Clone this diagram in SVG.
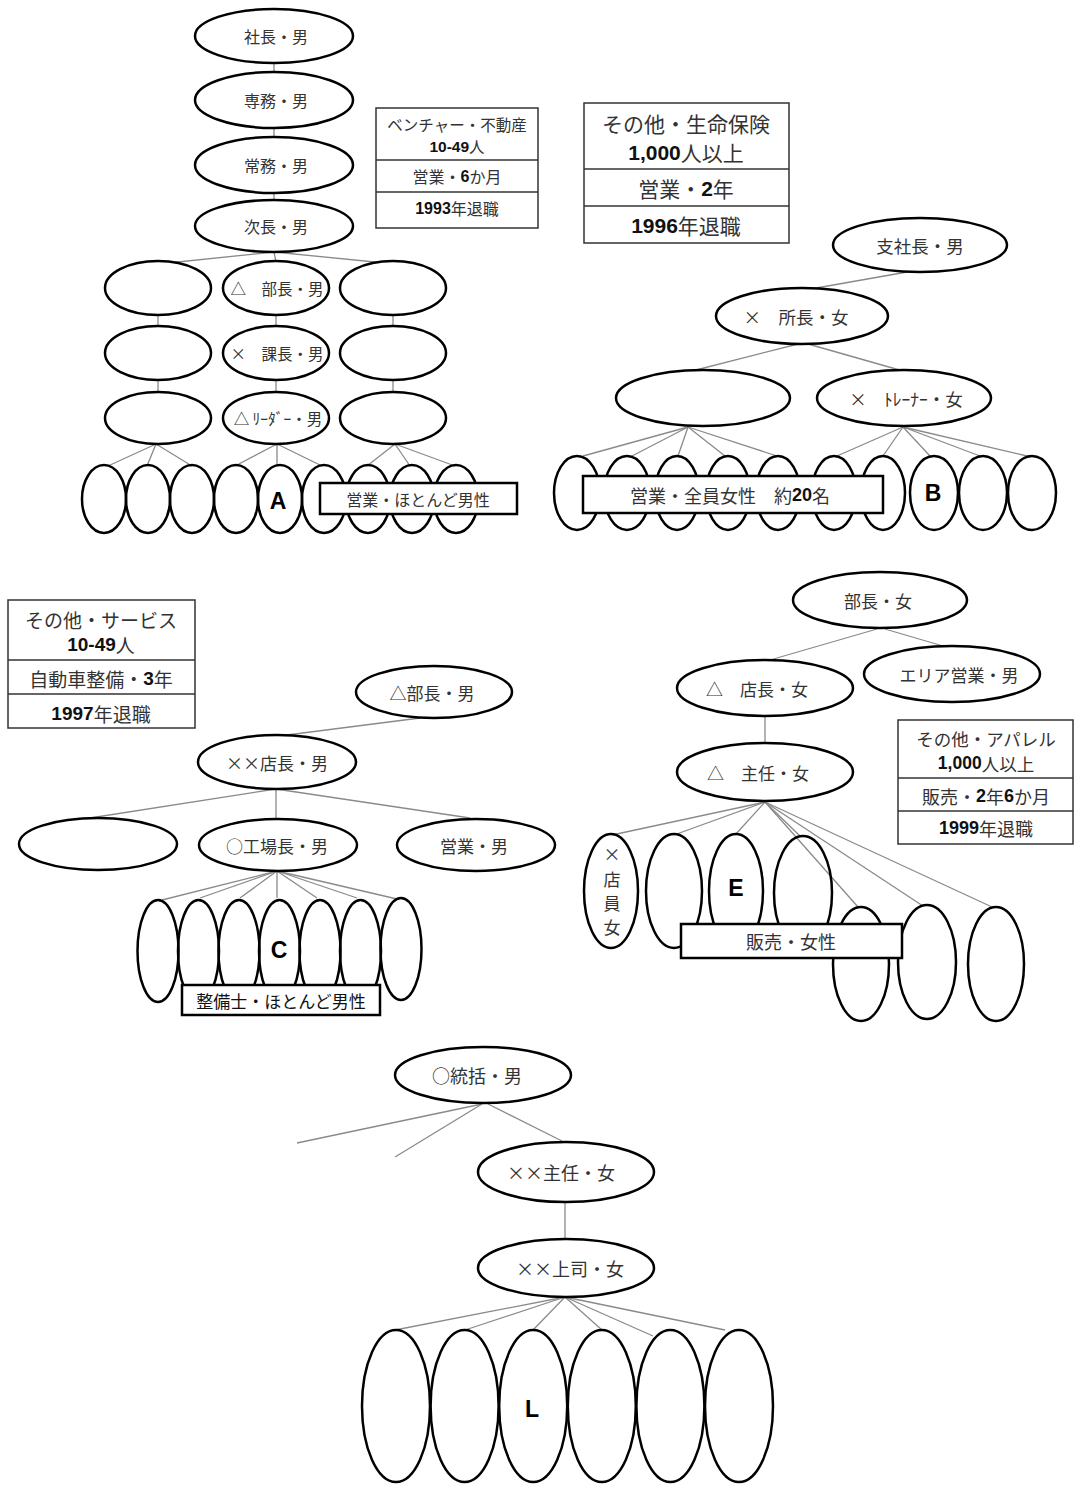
<svg xmlns="http://www.w3.org/2000/svg" width="1075" height="1485" viewBox="0 0 1075 1485">
<style>
.n{fill:#fff;stroke:#000;stroke-width:2.5}
.o{fill:none;stroke:#000;stroke-width:2.5}
.c{stroke:#8a8a8a;stroke-width:1.3;fill:none}
.t{font-family:"Noto Sans CJK JP","Liberation Sans",sans-serif;fill:#333;text-anchor:middle;dominant-baseline:central}
.box{fill:#fff;stroke:#333;stroke-width:1.5}
.lbl{fill:#fff;stroke:#000;stroke-width:2.5}
.d{font-family:"Liberation Sans",Arial,sans-serif;font-weight:bold;fill:#111}
.big{font-family:"Liberation Sans",Arial,sans-serif;font-weight:bold;font-size:23px;fill:#000;text-anchor:middle;dominant-baseline:central}
</style>
<rect width="1075" height="1485" fill="#fff"/>
<g id="connectors" class="c">
<!-- A -->
<line x1="274" y1="63" x2="274" y2="73"/>
<line x1="274" y1="128" x2="274" y2="137"/>
<line x1="274" y1="193" x2="274" y2="201"/>
<line x1="274" y1="252" x2="168" y2="263"/>
<line x1="274" y1="252" x2="276" y2="262"/>
<line x1="274" y1="252" x2="385" y2="263"/>
<line x1="158" y1="315" x2="158" y2="327"/>
<line x1="276" y1="315" x2="276" y2="327"/>
<line x1="393" y1="315" x2="393" y2="327"/>
<line x1="158" y1="380" x2="158" y2="392"/>
<line x1="276" y1="380" x2="276" y2="392"/>
<line x1="393" y1="380" x2="393" y2="392"/>
<line x1="156" y1="444" x2="108" y2="466"/>
<line x1="156" y1="444" x2="147" y2="466"/>
<line x1="156" y1="444" x2="192" y2="466"/>
<line x1="277" y1="444" x2="235" y2="466"/>
<line x1="277" y1="444" x2="277" y2="466"/>
<line x1="277" y1="444" x2="322" y2="466"/>
<line x1="395" y1="444" x2="367" y2="466"/>
<line x1="395" y1="444" x2="410" y2="466"/>
<line x1="395" y1="444" x2="455" y2="466"/>
<!-- B -->
<line x1="907" y1="272" x2="805" y2="290"/>
<line x1="798" y1="344" x2="692" y2="371"/>
<line x1="808" y1="344" x2="903" y2="371"/>
<line x1="688" y1="427" x2="583" y2="456"/>
<line x1="688" y1="427" x2="632" y2="456"/>
<line x1="688" y1="427" x2="678" y2="456"/>
<line x1="688" y1="427" x2="725" y2="456"/>
<line x1="688" y1="427" x2="777" y2="456"/>
<line x1="903" y1="427" x2="837" y2="456"/>
<line x1="903" y1="427" x2="883" y2="456"/>
<line x1="903" y1="427" x2="930" y2="456"/>
<line x1="903" y1="427" x2="980" y2="456"/>
<line x1="903" y1="427" x2="1027" y2="456"/>
<!-- C -->
<line x1="420" y1="718" x2="287" y2="735"/>
<line x1="276" y1="789" x2="90" y2="818"/>
<line x1="276" y1="789" x2="276" y2="818"/>
<line x1="276" y1="789" x2="470" y2="818"/>
<line x1="277" y1="871" x2="162" y2="900"/>
<line x1="277" y1="871" x2="200" y2="898"/>
<line x1="277" y1="871" x2="240" y2="898"/>
<line x1="277" y1="871" x2="277" y2="898"/>
<line x1="277" y1="871" x2="317" y2="898"/>
<line x1="277" y1="871" x2="357" y2="898"/>
<line x1="277" y1="871" x2="397" y2="899"/>
<!-- E -->
<line x1="877" y1="629" x2="770" y2="660"/>
<line x1="885" y1="629" x2="943" y2="646"/>
<line x1="765" y1="716" x2="765" y2="743"/>
<line x1="765" y1="802" x2="612" y2="835"/>
<line x1="765" y1="802" x2="674" y2="835"/>
<line x1="765" y1="802" x2="735" y2="835"/>
<line x1="765" y1="802" x2="800" y2="836"/>
<line x1="765" y1="802" x2="858" y2="907"/>
<line x1="765" y1="802" x2="923" y2="906"/>
<line x1="765" y1="802" x2="992" y2="907"/>
<!-- L -->
<line x1="482" y1="1104" x2="297" y2="1143"/>
<line x1="482" y1="1104" x2="395" y2="1157"/>
<line x1="488" y1="1104" x2="562" y2="1141"/>
<line x1="565" y1="1202" x2="565" y2="1239"/>
<line x1="565" y1="1297" x2="395" y2="1330"/>
<line x1="565" y1="1297" x2="465" y2="1330"/>
<line x1="565" y1="1297" x2="533" y2="1330"/>
<line x1="565" y1="1297" x2="602" y2="1330"/>
<line x1="565" y1="1297" x2="653" y2="1336"/>
<line x1="565" y1="1297" x2="725" y2="1330"/>
</g>

<!-- ===== A ===== -->
<g id="a-shacho"><ellipse class="n" cx="274" cy="36" rx="79" ry="27"/><text class="t" x="276" y="36" font-size="16">社長・男</text></g>
<g id="a-senmu"><ellipse class="n" cx="274" cy="100" rx="79" ry="28"/><text class="t" x="276" y="100" font-size="16">専務・男</text></g>
<g id="a-jomu"><ellipse class="n" cx="274" cy="165" rx="79" ry="28"/><text class="t" x="276" y="165" font-size="16">常務・男</text></g>
<g id="a-jicho"><ellipse class="n" cx="274" cy="226" rx="79" ry="26"/><text class="t" x="276" y="226" font-size="16">次長・男</text></g>
<g id="a-r2l"><ellipse class="n" cx="158" cy="288" rx="53" ry="27"/></g>
<g id="a-bucho"><ellipse class="n" cx="276" cy="288" rx="53" ry="27"/><text class="t" x="277" y="288" font-size="15.5">△　部長・男</text></g>
<g id="a-r2r"><ellipse class="n" cx="393" cy="288" rx="53" ry="27"/></g>
<g id="a-r3l"><ellipse class="n" cx="158" cy="353" rx="53" ry="27"/></g>
<g id="a-kacho"><ellipse class="n" cx="276" cy="353" rx="53" ry="27"/><text class="t" x="277" y="353" font-size="15.5">×　課長・男</text></g>
<g id="a-r3r"><ellipse class="n" cx="393" cy="353" rx="53" ry="27"/></g>
<g id="a-r4l"><ellipse class="n" cx="158" cy="418" rx="53" ry="26"/></g>
<g id="a-leader"><ellipse class="n" cx="276" cy="418" rx="53" ry="26"/><text class="t" x="278" y="418" font-size="15.5">△ ﾘｰﾀﾞｰ・男</text></g>
<g id="a-r4r"><ellipse class="n" cx="393" cy="418" rx="53" ry="26"/></g>
<g id="a-staff">
<ellipse class="o" cx="104" cy="499" rx="22" ry="34"/>
<ellipse class="o" cx="148" cy="499" rx="22" ry="34"/>
<ellipse class="o" cx="192" cy="499" rx="22" ry="34"/>
<ellipse class="o" cx="236" cy="499" rx="22" ry="34"/>
<ellipse class="o" cx="280" cy="499" rx="22" ry="34"/>
<ellipse class="o" cx="324" cy="499" rx="22" ry="34"/>
<ellipse class="o" cx="368" cy="499" rx="22" ry="34"/>
<ellipse class="o" cx="412" cy="499" rx="22" ry="34"/>
<ellipse class="o" cx="456" cy="499" rx="22" ry="34"/>
<text class="big" x="278" y="501">A</text>
</g>
<g id="a-label"><rect class="lbl" x="320" y="483" width="197" height="31"/><text class="t" x="418" y="499" font-size="16">営業・ほとんど男性</text></g>
<g id="a-info">
<rect class="box" x="376" y="108" width="162" height="120"/>
<line x1="376" y1="160" x2="538" y2="160" stroke="#333" stroke-width="1.5"/>
<line x1="376" y1="192" x2="538" y2="192" stroke="#333" stroke-width="1.5"/>
<text class="t" x="457" y="124" font-size="15.5">ベンチャー・不動産</text>
<text class="t" x="457" y="146" font-size="15.5"><tspan class="d">10-49</tspan>人</text>
<text class="t" x="457" y="176" font-size="16">営業・<tspan class="d">6</tspan>か月</text>
<text class="t" x="457" y="208" font-size="16"><tspan class="d">1993</tspan>年退職</text>
</g>

<!-- ===== B ===== -->
<g id="b-info">
<rect class="box" x="584" y="103" width="205" height="140"/>
<line x1="584" y1="169" x2="789" y2="169" stroke="#333" stroke-width="1.5"/>
<line x1="584" y1="206" x2="789" y2="206" stroke="#333" stroke-width="1.5"/>
<text class="t" x="686" y="123" font-size="21">その他・生命保険</text>
<text class="t" x="686" y="152" font-size="21"><tspan class="d">1,000</tspan>人以上</text>
<text class="t" x="686" y="188" font-size="21">営業・<tspan class="d">2</tspan>年</text>
<text class="t" x="686" y="225" font-size="21"><tspan class="d">1996</tspan>年退職</text>
</g>
<g id="b-shishacho"><ellipse class="n" cx="920" cy="245" rx="87" ry="27"/><text class="t" x="920" y="245" font-size="17.5">支社長・男</text></g>
<g id="b-shocho"><ellipse class="n" cx="802" cy="316" rx="86" ry="28"/><text class="t" x="796" y="316" font-size="17.5">×　所長・女</text></g>
<g id="b-blank"><ellipse class="n" cx="703" cy="398" rx="87" ry="28"/></g>
<g id="b-trainer"><ellipse class="n" cx="904" cy="398" rx="87" ry="28"/><text class="t" x="906" y="398" font-size="17.5">×　ﾄﾚｰﾅｰ・女</text></g>
<g id="b-staff">
<ellipse class="o" cx="577" cy="493" rx="23" ry="37"/>
<ellipse class="o" cx="627" cy="493" rx="23" ry="37"/>
<ellipse class="o" cx="677" cy="493" rx="22" ry="37"/>
<ellipse class="o" cx="728" cy="493" rx="22" ry="37"/>
<ellipse class="o" cx="778" cy="493" rx="22" ry="37"/>
<ellipse class="o" cx="834" cy="493" rx="22" ry="37"/>
<ellipse class="o" cx="883" cy="493" rx="22" ry="37"/>
<ellipse class="o" cx="934" cy="493" rx="24" ry="37"/>
<ellipse class="o" cx="983" cy="493" rx="24" ry="37"/>
<ellipse class="o" cx="1032" cy="493" rx="24" ry="37"/>
<text class="big" x="933" y="493">B</text>
</g>
<g id="b-label"><rect class="lbl" x="583" y="476" width="300" height="37"/><text class="t" x="730" y="495" font-size="18">営業・全員女性　約<tspan class="d">20</tspan>名</text></g>

<!-- ===== C ===== -->
<g id="c-info">
<rect class="box" x="8" y="600" width="187" height="128"/>
<line x1="8" y1="660" x2="195" y2="660" stroke="#333" stroke-width="1.5"/>
<line x1="8" y1="694" x2="195" y2="694" stroke="#333" stroke-width="1.5"/>
<text class="t" x="101" y="619" font-size="19">その他・サービス</text>
<text class="t" x="101" y="644" font-size="19"><tspan class="d">10-49</tspan>人</text>
<text class="t" x="101" y="678" font-size="19">自動車整備・<tspan class="d">3</tspan>年</text>
<text class="t" x="101" y="713" font-size="19"><tspan class="d">1997</tspan>年退職</text>
</g>
<g id="c-bucho"><ellipse class="n" cx="434" cy="692" rx="78" ry="26"/><text class="t" x="432" y="692" font-size="17">△部長・男</text></g>
<g id="c-tencho"><ellipse class="n" cx="277" cy="762" rx="79" ry="27"/><text class="t" x="277" y="762" font-size="17">××店長・男</text></g>
<g id="c-blank"><ellipse class="n" cx="98" cy="844" rx="79" ry="26"/></g>
<g id="c-kojocho"><ellipse class="n" cx="278" cy="845" rx="79" ry="26"/><text class="t" x="277" y="845" font-size="17">○工場長・男</text></g>
<g id="c-eigyo"><ellipse class="n" cx="476" cy="845" rx="79" ry="26"/><text class="t" x="474" y="845" font-size="17">営業・男</text></g>
<g id="c-staff">
<ellipse class="o" cx="158" cy="951" rx="20.5" ry="51"/>
<ellipse class="o" cx="198.5" cy="951" rx="20.5" ry="51"/>
<ellipse class="o" cx="239" cy="951" rx="20.5" ry="51"/>
<ellipse class="o" cx="279.5" cy="951" rx="20.5" ry="51"/>
<ellipse class="o" cx="320" cy="951" rx="20.5" ry="51"/>
<ellipse class="o" cx="360.5" cy="951" rx="20.5" ry="51"/>
<ellipse class="o" cx="401" cy="949" rx="20.5" ry="51"/>
<text class="big" x="279" y="950">C</text>
</g>
<g id="c-label"><rect class="lbl" x="182" y="985" width="198" height="30"/><text class="t" x="281" y="1000" font-size="17" style="fill:#111">整備士・ほとんど男性</text></g>

<!-- ===== E ===== -->
<g id="e-bucho"><ellipse class="n" cx="880" cy="600" rx="87" ry="28"/><text class="t" x="878" y="600" font-size="17">部長・女</text></g>
<g id="e-area"><ellipse class="n" cx="952" cy="674" rx="88" ry="28"/><text class="t" x="959" y="674" font-size="17">エリア営業・男</text></g>
<g id="e-tencho"><ellipse class="n" cx="765" cy="688" rx="88" ry="28"/><text class="t" x="757" y="688" font-size="17">△　店長・女</text></g>
<g id="e-shunin"><ellipse class="n" cx="765" cy="772" rx="88" ry="29"/><text class="t" x="758" y="772" font-size="17">△　主任・女</text></g>
<g id="e-info">
<rect class="box" x="898" y="720" width="175" height="124"/>
<line x1="898" y1="778" x2="1073" y2="778" stroke="#333" stroke-width="1.5"/>
<line x1="898" y1="811" x2="1073" y2="811" stroke="#333" stroke-width="1.5"/>
<text class="t" x="986" y="738" font-size="17.5">その他・アパレル</text>
<text class="t" x="986" y="763" font-size="17.5"><tspan class="d">1,000</tspan>人以上</text>
<text class="t" x="986" y="796" font-size="18">販売・<tspan class="d">2</tspan>年<tspan class="d">6</tspan>か月</text>
<text class="t" x="986" y="828" font-size="18"><tspan class="d">1999</tspan>年退職</text>
</g>
<g id="e-tenin">
<ellipse class="o" cx="611" cy="891" rx="27" ry="57"/>
<text class="t" x="612" y="853" font-size="17">×</text>
<text class="t" x="612" y="878" font-size="17">店</text>
<text class="t" x="612" y="902" font-size="17">員</text>
<text class="t" x="612" y="926" font-size="17">女</text>
</g>
<g id="e-staff">
<ellipse class="o" cx="674" cy="891" rx="28" ry="57"/>
<ellipse class="o" cx="736" cy="891" rx="27" ry="57"/>
<ellipse class="o" cx="803" cy="893" rx="29" ry="57"/>
<ellipse class="o" cx="861" cy="964" rx="28" ry="57"/>
<ellipse class="o" cx="927" cy="962" rx="29" ry="57"/>
<ellipse class="o" cx="996" cy="964" rx="28" ry="57"/>
<text class="big" x="736" y="888">E</text>
</g>
<g id="e-label"><rect class="lbl" x="681" y="924" width="221" height="34"/><text class="t" x="791" y="941" font-size="18">販売・女性</text></g>

<!-- ===== L ===== -->
<g id="l-tokatsu"><ellipse class="n" cx="483" cy="1075" rx="88" ry="28"/><text class="t" x="477" y="1075" font-size="18">○統括・男</text></g>
<g id="l-shunin"><ellipse class="n" cx="566" cy="1172" rx="88" ry="30"/><text class="t" x="561" y="1172" font-size="18">××主任・女</text></g>
<g id="l-joshi"><ellipse class="n" cx="566" cy="1268" rx="88" ry="29"/><text class="t" x="570" y="1268" font-size="18">××上司・女</text></g>
<g id="l-staff">
<ellipse class="o" cx="396" cy="1406" rx="34" ry="76"/>
<ellipse class="o" cx="464.6" cy="1406" rx="34" ry="76"/>
<ellipse class="o" cx="533.2" cy="1406" rx="34" ry="76"/>
<ellipse class="o" cx="601.8" cy="1406" rx="34" ry="76"/>
<ellipse class="o" cx="670.4" cy="1406" rx="34" ry="76"/>
<ellipse class="o" cx="739" cy="1406" rx="34" ry="76"/>
<text class="big" x="532" y="1409">L</text>
</g>
</svg>
